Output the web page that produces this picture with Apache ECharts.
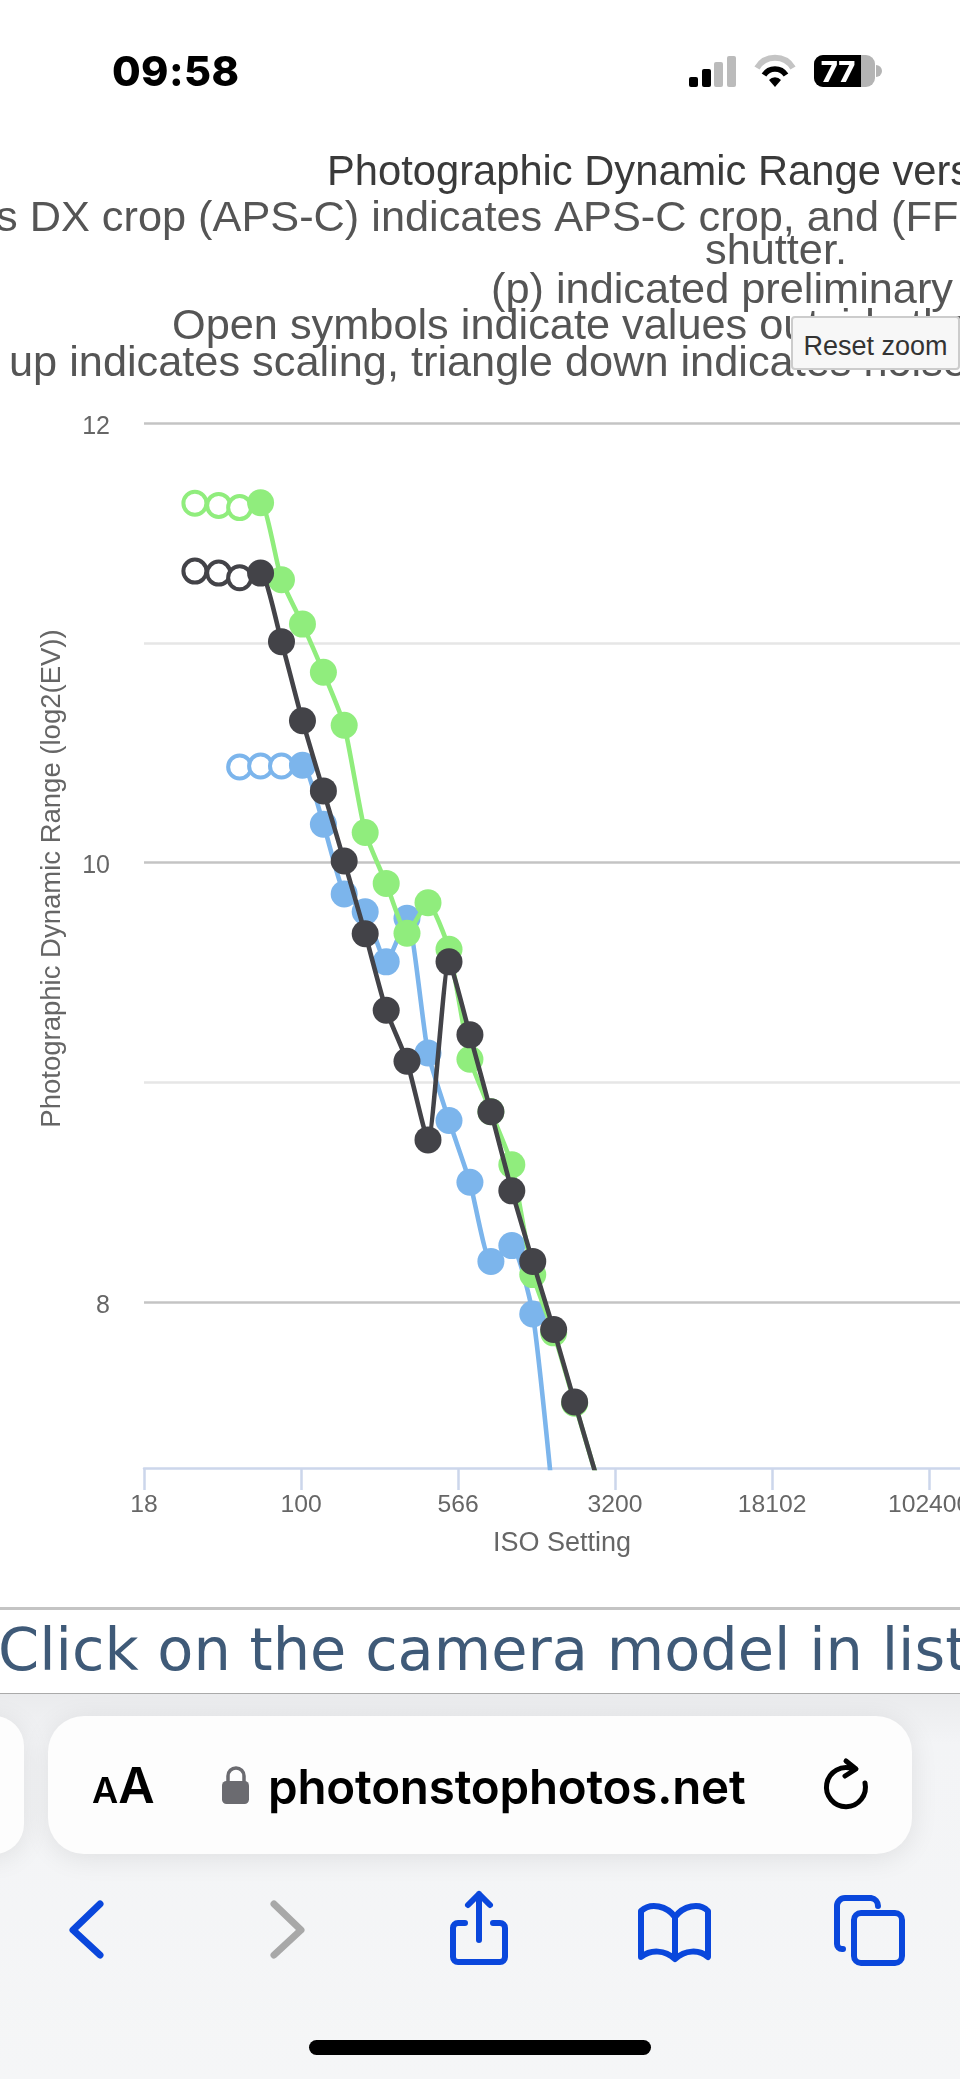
<!DOCTYPE html>
<html><head><meta charset="utf-8">
<script src="https://cdn.jsdelivr.net/npm/echarts@6/dist/echarts.min.js"></script>
<style>
html,body{margin:0;padding:0;background:#fff;overflow:hidden;width:960px;height:2079px}
#chart{position:absolute;left:0;top:0;width:960px;height:1620px}
.abs{position:absolute;white-space:nowrap}
#rule1{left:0;top:1607px;width:960px;height:3px;background:#c4c4c4}
#click{left:-2px;top:1615px;font:59px "DejaVu Sans";color:#3f5a78;width:962px;overflow:hidden}
#bar{left:0;top:1693px;width:960px;height:386px;background:linear-gradient(#eaebed,#f3f4f6 50px,#f5f6f7);border-top:1px solid #aaa;box-sizing:border-box}
.pill{background:#fdfdfd;box-shadow:0 4px 28px rgba(0,0,0,.09)}
#reset{left:791px;top:316px;width:169px;height:54px;box-sizing:border-box;background:#f7f7f7;border:2px solid #ccc;border-radius:4px;font:27px "Liberation Sans";color:#333;text-align:center;line-height:56px}
</style></head><body>
<div id="chart"></div>
<div class="abs" id="reset">Reset zoom</div>
<div class="abs" id="rule1"></div>
<div class="abs" id="click">Click on the camera model in list</div>
<div class="abs" id="bar"></div>
<div class="abs" style="left:112px;top:46px;font:800 41.5px Inter;color:#000;letter-spacing:.4px">09:58</div>
<svg class="abs" style="left:680px;top:50px" width="210" height="45" viewBox="680 50 210 45">
 <rect x="689" y="77" width="9" height="10" rx="2" fill="#000"/><rect x="702" y="69" width="9" height="18" rx="2" fill="#000"/>
 <rect x="714" y="62" width="9" height="25" rx="2" fill="#bbb"/><rect x="727" y="56" width="9" height="31" rx="2" fill="#bbb"/>
 <path d="M757 68a21 21 0 0 1 36 0" fill="none" stroke="#c4c4c4" stroke-width="6"/>
 <path d="M764 75a13 13 0 0 1 22 0" fill="none" stroke="#000" stroke-width="5.5"/>
 <path d="M775 87l-6-7a8 8 0 0 1 12 0z" fill="#000"/>
 <rect x="814" y="55" width="61" height="32" rx="9" fill="#b4b4b4"/>
 <path d="M823 55h38v32h-38a9 9 0 0 1-9-9v-14a9 9 0 0 1 9-9z" fill="#000"/>
 <path d="M876 65a6 6 0 0 1 0 12z" fill="#b4b4b4"/>
 <text x="838" y="82" font-family="Inter" font-weight="800" font-size="29" fill="#fff" text-anchor="middle">77</text>
</svg>
<div class="abs pill" style="left:-40px;top:1716px;width:64px;height:138px;border-radius:30px"></div>
<div class="abs pill" style="left:48px;top:1716px;width:864px;height:138px;border-radius:36px"></div>
<div class="abs" style="left:92px;top:1760px;font:600 50px Inter;color:#000;line-height:50px"><span style="font-size:36px">A</span>A</div>
<svg class="abs" style="left:222px;top:1765px" width="28" height="40"><path d="M6 17v-6a8 8 0 0 1 16 0v6" fill="none" stroke="#6b6b70" stroke-width="3.5"/><rect x="0" y="16" width="27" height="23" rx="4.5" fill="#6b6b70"/></svg>
<div class="abs" style="left:268px;top:1759px;font:600 47.5px Inter;color:#000;line-height:56px;letter-spacing:-.2px">photonstophotos.net</div>
<svg class="abs" style="left:0;top:1740px" width="960" height="339" viewBox="0 1740 960 339" fill="none" stroke-linecap="round" stroke-linejoin="round">
 <path d="M846 1761l10 8-11 7M853 1769a19.500 19.500 0 1 0 12 14" stroke="#000" stroke-width="5"/>
 <path d="M100 1904l-27 26 27 25" stroke="#0a47dc" stroke-width="7"/>
 <path d="M274 1904l27 26-27 25" stroke="#a8a8a8" stroke-width="7"/>
 <path d="M465 1923h-7a5 5 0 0 0-5 5v29a5 5 0 0 0 5 5h42a5 5 0 0 0 5-5v-29a5 5 0 0 0-5-5h-7M479 1940v-46M468 1905l11-11 11 11" stroke="#0a47dc" stroke-width="6"/>
 <path d="M675 1917c-8-11-24-15-34-6v46c10-8 24-7 34 2c10-9 24-10 33-2v-46c-9-9-25-5-33 6zM675 1917v41" stroke="#0a47dc" stroke-width="6"/>
 <rect x="854" y="1913" width="48" height="50" rx="7" stroke="#0a47dc" stroke-width="6"/>
 <path d="M843 1949h-1a5 5 0 0 1-5-5v-38a8 8 0 0 1 8-8h26a8 8 0 0 1 7 8" stroke="#0a47dc" stroke-width="6"/>
</svg>
<div class="abs" style="left:309px;top:2040px;width:342px;height:15px;border-radius:8px;background:#000"></div>
<script>
// ISO settings of each measured point (one third stops)
const isoGreen = [31,40.3,50.8,64,80.6,101.6,128,161,203,256,322,406,512,645,813,1024,1290,1625,2048,2580];
const isoBlue  = [50.8,64,80.6,101.6,128,161,203,256,322,406,512,645,813,1024,1290,1625];
const isoBlack = [31,40.3,50.8,64,80.6,101.6,128,161,203,256,322,406,512,645,813,1024,1290,1625,2048,2580];
// Photographic dynamic range, EV
const pdrGreen = [11.635,11.625,11.615,11.637,11.287,11.085,10.866,10.625,10.137,9.905,9.678,9.817,9.605,9.105,8.866,8.625,8.125,7.860,7.540,7.220];
const pdrBlue  = [10.435,10.439,10.439,10.443,10.174,9.857,9.776,9.548,9.746,9.133,8.826,8.545,8.185,8.257,7.946,7.070];
const pdrBlack = [11.326,11.317,11.296,11.317,11.005,10.645,10.326,10.007,9.676,9.328,9.096,8.738,9.548,9.216,8.866,8.506,8.185,7.875,7.545,7.220];
// How many leading points of each series are open symbols
const openGreen = 3, openBlue = 3, openBlack = 3;
const xTickLabels = ['18','100','566','3200','18102','102400'];
const yTickValues = [8,9,10,11,12];
const yLabelValues = [8,10,12];
const titleLines = [
  'Photographic Dynamic Range versus',
  's DX crop (APS-C) indicates APS-C crop, and (FF',
  'shutter.',
  '(p) indicated preliminary',
  'Open symbols indicate values outside the',
  'up indicates scaling, triangle down indicates noise'
];
const titleLeft = [327,-4,705,491,172,9];
const titleTop  = [153,198,231,270,306,343];

const stops = iso => Math.log2(iso/100);
function series(name, iso, pdr, open, color, z){
  return {
    name, type:'line', smooth:0.18, z, clip:true,
    symbol:'circle', symbolSize:27, showSymbol:true, showAllSymbol:true,
    lineStyle:{color, width:4.6},
    itemStyle:{color},
    emphasis:{disabled:true},
    data: iso.map((v,i)=>({
      value:[stops(v), pdr[i]],
      symbolSize: i<open ? 23 : 27,
      itemStyle: i<open ? {color:'#fff', borderColor:color, borderWidth:4} : {color}
    }))
  };
}
const chart = echarts.init(document.getElementById('chart'));
chart.setOption({
  animation:false,
  backgroundColor:'#fff',
  title: titleLines.map((t,i)=>({
    text:t, left:titleLeft[i], top:titleTop[i], padding:0,
    textStyle:{fontFamily:'Liberation Sans', fontSize:i==0?41.7:43.3, fontWeight:'normal', color:i==0?'#3a3a3a':'#555'}
  })),
  grid:{left:144, width:836, top:423, height:1045, containLabel:false, outerBoundsMode:'none'},
  xAxis:{
    type:'value', min:-2.5, max:10.81, interval:2.5,
    name:'ISO Setting', nameLocation:'middle', nameGap:62,
    nameTextStyle:{fontFamily:'Liberation Sans', fontSize:27, color:'#666'},
    axisLine:{show:true, onZero:false, lineStyle:{color:'#ccd6eb', width:2.500}},
    axisTick:{show:true, length:22, lineStyle:{color:'#ccd6eb', width:2.500}},
    axisLabel:{fontFamily:'Liberation Sans', fontSize:24.700, color:'#666', margin:25, showMaxLabel:false, hideOverlap:false,
      formatter:v=>{const k=(v+2.5)/2.5; return Number.isInteger(k)&&xTickLabels[k]?xTickLabels[k]:'';}},
    splitLine:{show:false}
  },
  yAxis:{
    type:'value', min:7.245, max:12,
    name:'Photographic Dynamic Range (log2(EV))', nameLocation:'middle', nameGap:78,
    nameTextStyle:{fontFamily:'Liberation Sans', fontSize:27.5, color:'#666', padding:[0,0,0,134]},
    axisLine:{show:false},
    axisTick:{show:false, customValues:yTickValues},
    axisLabel:{margin:34, customValues:yLabelValues, formatter:'{a|{value}}',
      rich:{a:{fontFamily:'Liberation Sans', fontSize:25, color:'#666', padding:[8,0,0,0]}}},
    splitLine:{show:true, lineStyle:{color:['#c4c4c4','#e6e6e6'], width:2.5}}
  },
  series:[
    series('Blue camera', isoBlue, pdrBlue, openBlue, '#7cb5ec', 2),
    series('Green camera', isoGreen, pdrGreen, openGreen, '#90ed7d', 3),
    series('Black camera', isoBlack, pdrBlack, openBlack, '#434348', 4)
  ]
});
</script>
</body></html>
